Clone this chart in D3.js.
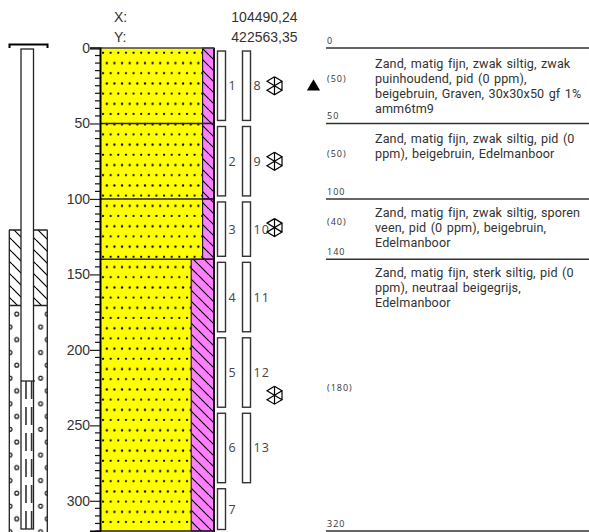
<!DOCTYPE html>
<html><head><meta charset="utf-8">
<style>html,body{margin:0;padding:0;background:#fff}svg{display:block}</style>
<script src="https://cdn.jsdelivr.net/npm/d3@7"></script></head><body>
<script>
const layerTops=[0,50,100,140];
const layerBottoms=[50,100,140,320];
const siltPct=[10,10,10,20];
const thickness=["(50)","(50)","(40)","(180)"];
const depthLabels=[0,50,100,140,320];
const descriptions=[
["Zand, matig fijn, zwak siltig, zwak","puinhoudend, pid (0 ppm),","beigebruin, Graven, 30x30x50 gf 1%","amm6tm9"],
["Zand, matig fijn, zwak siltig, pid (0","ppm), beigebruin, Edelmanboor"],
["Zand, matig fijn, zwak siltig, sporen","veen, pid (0 ppm), beigebruin,","Edelmanboor"],
["Zand, matig fijn, sterk siltig, pid (0","ppm), neutraal beigegrijs,","Edelmanboor"]];
const majorTicks=[0,50,100,150,200,250,300];
const sampleNames1=["1","2","3","4","5","6","7"];
const sampleTops1=[2,52,102,142,192,242,292];
const sampleBottoms1=[48,98,138,188,238,288,319];
const sampleNames2=["8","9","10","11","12","13"];
const sampleTops2=[2,52,102,142,192,242];
const sampleBottoms2=[48,98,138,188,238,288];
const symbolDepths=[25,75,119,230];
const waterDepth=[25];
const wellX=["X:","Y:"];
const wellVals=["104490,24","422563,35"];

const W=589,H=532;
const y=d3.scaleLinear().domain([0,320]).range([48,531]);
const x=d3.scaleLinear().domain([0,100]).range([100,214]);
const svg=d3.select("body").append("svg").attr("width",W).attr("height",H);
const defs=svg.append("defs");
const dots=defs.append("pattern").attr("id","dots").attr("patternUnits","userSpaceOnUse")
 .attr("width",7.63).attr("height",20.4).attr("x",102).attr("y",48);
[[1,4.7],[4.8,15]].forEach(([a,b])=>dots.append("circle").attr("cx",a).attr("cy",b).attr("r",1.15).attr("fill","#000"));
const hatch=(id,s,bg,w)=>{const p=defs.append("pattern").attr("id",id).attr("patternUnits","userSpaceOnUse").attr("width",s).attr("height",s);
 p.append("rect").attr("width",s).attr("height",s).attr("fill",bg);
 p.append("path").attr("d",`M-1,-1L${s+1},${s+1}M${-s},0L0,${s}M${s},0L${s*2},${s}`).attr("stroke","#000").attr("stroke-width",w);};
hatch("silt",11,"#ff80ff",1.2);
hatch("wellh",12,"#fff",1.2);
const gr=defs.append("pattern").attr("id","gravel").attr("patternUnits","userSpaceOnUse").attr("width",30.6).attr("height",25.6).attr("x",0).attr("y",305);
[[16.7,9],[10,22]].forEach(([a,b])=>gr.append("circle").attr("cx",a).attr("cy",b).attr("r",1.9).attr("fill","none").attr("stroke","#111").attr("stroke-width",1.2));

// well
const g=svg.append("g");
g.append("path").attr("d","M9.5,48V44.5H47.5V48").attr("fill","none").attr("stroke","#000").attr("stroke-width",2);
g.append("rect").attr("x",9).attr("y",305).attr("width",38.5).attr("height",227).attr("fill","url(#gravel)");
g.selectAll("rect.h").data([[9,12],[33.5,14]]).join("rect").attr("x",d=>d[0]).attr("y",230).attr("width",d=>d[1]).attr("height",75).attr("fill","url(#wellh)");
g.append("path").attr("d","M9,230H21M33.5,230H47.5M9,305.5H47.5M9.3,230V532M47.3,230V532").attr("fill","none").attr("stroke","#222").attr("stroke-width",1.3);
g.append("rect").attr("x",21).attr("y",49).attr("width",12.5).attr("height",480).attr("fill","#fff").attr("stroke","#222").attr("stroke-width",1.3);
g.append("path").attr("d","M21,381H35").attr("stroke","#222").attr("stroke-width",1.3);
g.selectAll("line.f").data([26,31.6]).join("line").attr("x1",d=>d).attr("x2",d=>d).attr("y1",381).attr("y2",529).attr("stroke","#333").attr("stroke-width",1.6).attr("stroke-dasharray","18 8");

// soil
const s=svg.append("g");
const layers=d3.range(layerTops.length);
s.selectAll("rect.sand").data(layers).join("rect").attr("x",x(0)).attr("width",i=>x(100-siltPct[i])-x(0)).attr("y",i=>y(layerTops[i])).attr("height",i=>y(layerBottoms[i])-y(layerTops[i])).attr("fill","#ffff00");
s.selectAll("rect.dot").data(layers).join("rect").attr("x",x(0)).attr("width",i=>x(100-siltPct[i])-x(0)).attr("y",i=>y(layerTops[i])).attr("height",i=>y(layerBottoms[i])-y(layerTops[i])).attr("fill","url(#dots)");
s.selectAll("rect.silt").data(layers).join("rect").attr("x",i=>x(100-siltPct[i])).attr("width",i=>x(100)-x(100-siltPct[i])).attr("y",i=>y(layerTops[i])).attr("height",i=>y(layerBottoms[i])-y(layerTops[i])).attr("fill","url(#silt)").attr("stroke","#111").attr("stroke-width",1.1);
s.selectAll("line.sep").data(layerBottoms).join("line").attr("x1",x(0)).attr("x2",x(100)).attr("y1",d=>y(d)).attr("y2",d=>y(d)).attr("stroke","#222").attr("stroke-width",1.4);
s.append("line").attr("x1",x(100)).attr("x2",x(100)).attr("y1",y(0)).attr("y2",H).attr("stroke","#111").attr("stroke-width",2);
s.append("line").attr("x1",90).attr("x2",x(100)).attr("y1",y(0)).attr("y2",y(0)).attr("stroke","#444").attr("stroke-width",1.6);

// axis
const ax=svg.append("g").attr("transform",`translate(${x(0)},0)`)
 .call(d3.axisLeft(y).tickValues(majorTicks).tickSize(10).tickPadding(0).tickFormat(d3.format("d")));
ax.select(".domain").attr("stroke","#000").attr("stroke-width",2);
ax.selectAll("line").attr("stroke","#222").attr("stroke-width",1.2);
ax.selectAll("text").attr("font-family","Liberation Sans").attr("font-size",14).attr("fill","#333");
const minor=d3.range(0,325,5).filter(d=>d%50);
svg.append("g").selectAll("line").data(minor).join("line").attr("x1",95).attr("x2",100).attr("y1",d=>y(d)).attr("y2",d=>y(d)).attr("stroke","#111").attr("stroke-width",1.2);

// samples
const sampleCol=(names,tops,bottoms,x0)=>{
 const c=svg.append("g");
 c.selectAll("rect").data(names).join("rect").attr("x",x0).attr("width",8).attr("y",(d,i)=>y(tops[i])).attr("height",(d,i)=>y(bottoms[i])-y(tops[i])).attr("fill","#fff").attr("stroke","#333").attr("stroke-width",1.4);
 c.selectAll("text").data(names).join("text").attr("x",x0+11).attr("y",(d,i)=>(y(tops[i])+y(bottoms[i]))/2+4.5).text(d=>d).attr("font-family","Open Sans").attr("font-size",12.5).attr("letter-spacing",1).attr("fill","#444");
};
sampleCol(sampleNames1,sampleTops1,sampleBottoms1,217.5);
sampleCol(sampleNames2,sampleTops2,sampleBottoms2,242.5);

// symbols
const hex="M0,-9L-7.5,-4.5L7.5,4.5L0,9L-7.5,4.5L7.5,-4.5L0,-9M7.5,-4.5V4.5M0,-9V9";
svg.append("g").selectAll("path").data(symbolDepths).join("path").attr("transform",d=>`translate(274.5,${y(d)})`).attr("d",hex).attr("fill","none").attr("stroke","#000").attr("stroke-width",1.2);
svg.append("g").selectAll("path").data(waterDepth).join("path").attr("transform",d=>`translate(313.5,${y(d)+1})`).attr("d",d3.symbol(d3.symbolTriangle,75)).attr("fill","#000");

// coords
const c=svg.append("g").attr("font-family","Liberation Sans").attr("font-size",14).attr("fill","#333");
c.selectAll("text.k").data(wellX).join("text").attr("x",114).attr("y",(d,i)=>22+i*20).text(d=>d);
c.selectAll("text.v").data(wellVals).join("text").attr("class","v").attr("x",297.5).attr("text-anchor","end").attr("y",(d,i)=>22+i*20).text(d=>d);

// log
const r=svg.append("g");
r.selectAll("line").data(depthLabels).join("line").attr("x1",326).attr("x2",W).attr("y1",d=>y(d)).attr("y2",d=>y(d)).attr("stroke","#333").attr("stroke-width",1.4);
r.selectAll("text.d").data(depthLabels).join("text").attr("class","d").attr("x",327).attr("y",d=>y(d)-4).text(d=>d).attr("font-family","Open Sans").attr("font-size",9).attr("letter-spacing",1).attr("fill","#333");
r.selectAll("text.t").data(layers).join("text").attr("class","t").attr("x",327).attr("y",i=>(y(layerTops[i])+y(layerBottoms[i]))/2-4).text(i=>thickness[i]).attr("font-family","Open Sans").attr("font-size",9).attr("letter-spacing",1).attr("fill","#333");
layers.forEach(i=>{
 r.append("g").selectAll("text").data(descriptions[i]).join("text").attr("x",375).attr("y",(d,j)=>y(layerTops[i])+(i<2?19.5:18)+j*15).text(d=>d).attr("font-family","Roboto").attr("font-size",12.6).attr("letter-spacing",0.1).attr("word-spacing",1.2).attr("fill","#333");
});
</script></body></html>
